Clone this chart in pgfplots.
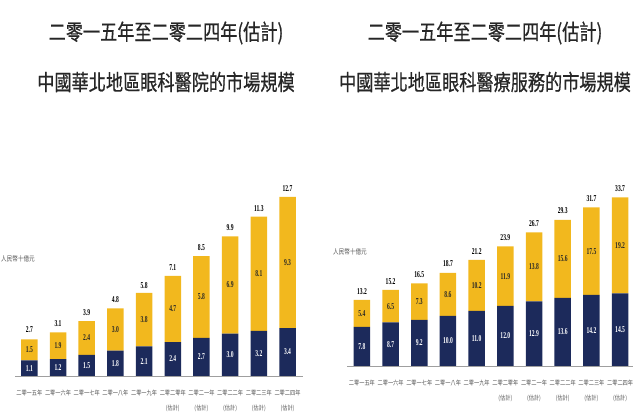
\documentclass[border=0pt]{standalone}
\usepackage{pgfplots}
\pgfplotsset{compat=1.18}
\usepackage{pgfplotstable}
\usepackage{fontspec}
\setmainfont{Liberation Serif}
\newfontfamily\numfont{Liberation Serif}[FakeStretch=0.62]
\newfontfamily\cjk{Noto Sans CJK TC}[FakeStretch=0.78,FakeBold=0.6]
\newfontfamily\cjks{Noto Sans CJK TC}[FakeStretch=0.8]
\definecolor{navy}{HTML}{1C2A5B}
\definecolor{gold}{HTML}{F2B81E}
\definecolor{titlegray}{HTML}{262626}
\definecolor{ticgray}{HTML}{555555}

\pgfplotstableread{
x navy gold total
0 1.1 1.5 2.7
1 1.2 1.9 3.1
2 1.5 2.4 3.9
3 1.8 3.0 4.8
4 2.1 3.8 5.8
5 2.4 4.7 7.1
6 2.7 5.8 8.5
7 3.0 6.9 9.9
8 3.2 8.1 11.3
9 3.4 9.3 12.7
}\tabA

\pgfplotstableread{
x navy gold total
0 7.8 5.4 13.2
1 8.7 6.5 15.2
2 9.2 7.3 16.5
3 10.0 8.6 18.7
4 11.0 10.2 21.2
5 12.0 11.9 23.9
6 12.9 13.8 26.7
7 13.6 15.6 29.3
8 14.2 17.5 31.7
9 14.5 19.2 33.7
}\tabB

\tikzset{numlab/.style={font=\numfont\bfseries\fontsize{9}{9}\selectfont}}
\pgfplotsset{
  base/.style={scale only axis, ymin=0, clip=false},
  mybars/.style={base,
    ybar stacked, bar width=16.5pt,
    axis y line=none, axis x line*=bottom,
    x axis line style={-, draw=gray!75, line width=0.9pt},
    xtick={0,...,9},
    xticklabels={{二零一五年},{二零一六年},{二零一七年},{二零一八年},{二零一九年},{二零二零年\\(估計)},{二零二一年\\(估計)},{二零二二年\\(估計)},{二零二三年\\(估計)},{二零二四年\\(估計)}},
    xtick style={draw=none},
    xticklabel style={font=\cjks\fontsize{6.5}{14.5}\selectfont, text=ticgray, align=center, anchor=north, yshift=-10.5pt},
  },
  overlay/.style={base, hide axis},
  fmt/.style={nodes near coords={\pgfmathprintnumber[fixed,fixed zerofill,precision=1,assume math mode=true]{\pgfplotspointmeta}}, point meta=explicit},
}

\begin{document}
\begin{tikzpicture}[x=1pt,y=1pt]
\path[use as bounding box] (0,0) rectangle (640,414);

% titles
\node[font=\cjk\fontsize{22}{22}\selectfont, text=titlegray] at (166,381) {二零一五年至二零二四年(估計)};
\node[font=\cjk\fontsize{22}{22}\selectfont, text=titlegray] at (166,332) {中國華北地區眼科醫院的市場規模};
\node[font=\cjk\fontsize{22}{22}\selectfont, text=titlegray] at (485,381) {二零一五年至二零二四年(估計)};
\node[font=\cjk\fontsize{22}{22}\selectfont, text=titlegray] at (485,332) {中國華北地區眼科醫療服務的市場規模};

% y unit labels
\node[font=\cjks\fontsize{7}{7}\selectfont, text=ticgray, anchor=west, inner sep=0pt] at (1,155) {人民幣十億元};
\node[font=\cjks\fontsize{7}{7}\selectfont, text=ticgray, anchor=west, inner sep=0pt] at (333,162) {人民幣十億元};

\begin{axis}[mybars, at={(15pt,38pt)}, anchor=south west,
  width=288pt, height=183.3pt, xmin=-0.5, xmax=9.54, ymax=13]
\addplot[fill=navy, draw=none, fmt,
  nodes near coords style={numlab, text=white, anchor=center}]
  table[x=x, y=navy, meta=navy]{\tabA};
\addplot[fill=gold, draw=none, fmt,
  nodes near coords style={numlab, text=black!85, anchor=center}]
  table[x=x, y=gold, meta=gold]{\tabA};
\end{axis}
\begin{axis}[overlay, at={(15pt,38pt)}, anchor=south west,
  width=288pt, height=183.3pt, xmin=-0.5, xmax=9.54, ymax=13]
\addplot[draw=none, mark=none, fmt,
  nodes near coords style={numlab, text=black, anchor=south, yshift=2pt}]
  table[x=x, y=total, meta=total]{\tabA};
\end{axis}

\begin{axis}[mybars, at={(347pt,48pt)}, anchor=south west,
  width=286pt, height=170pt, xmin=-0.52, xmax=9.45, ymax=34]
\addplot[fill=navy, draw=none, fmt,
  nodes near coords style={numlab, text=white, anchor=center}]
  table[x=x, y=navy, meta=navy]{\tabB};
\addplot[fill=gold, draw=none, fmt,
  nodes near coords style={numlab, text=black!85, anchor=center}]
  table[x=x, y=gold, meta=gold]{\tabB};
\end{axis}
\begin{axis}[overlay, at={(347pt,48pt)}, anchor=south west,
  width=286pt, height=170pt, xmin=-0.52, xmax=9.45, ymax=34]
\addplot[draw=none, mark=none, fmt,
  nodes near coords style={numlab, text=black, anchor=south, yshift=2pt}]
  table[x=x, y=total, meta=total]{\tabB};
\end{axis}
\end{tikzpicture}
\end{document}
